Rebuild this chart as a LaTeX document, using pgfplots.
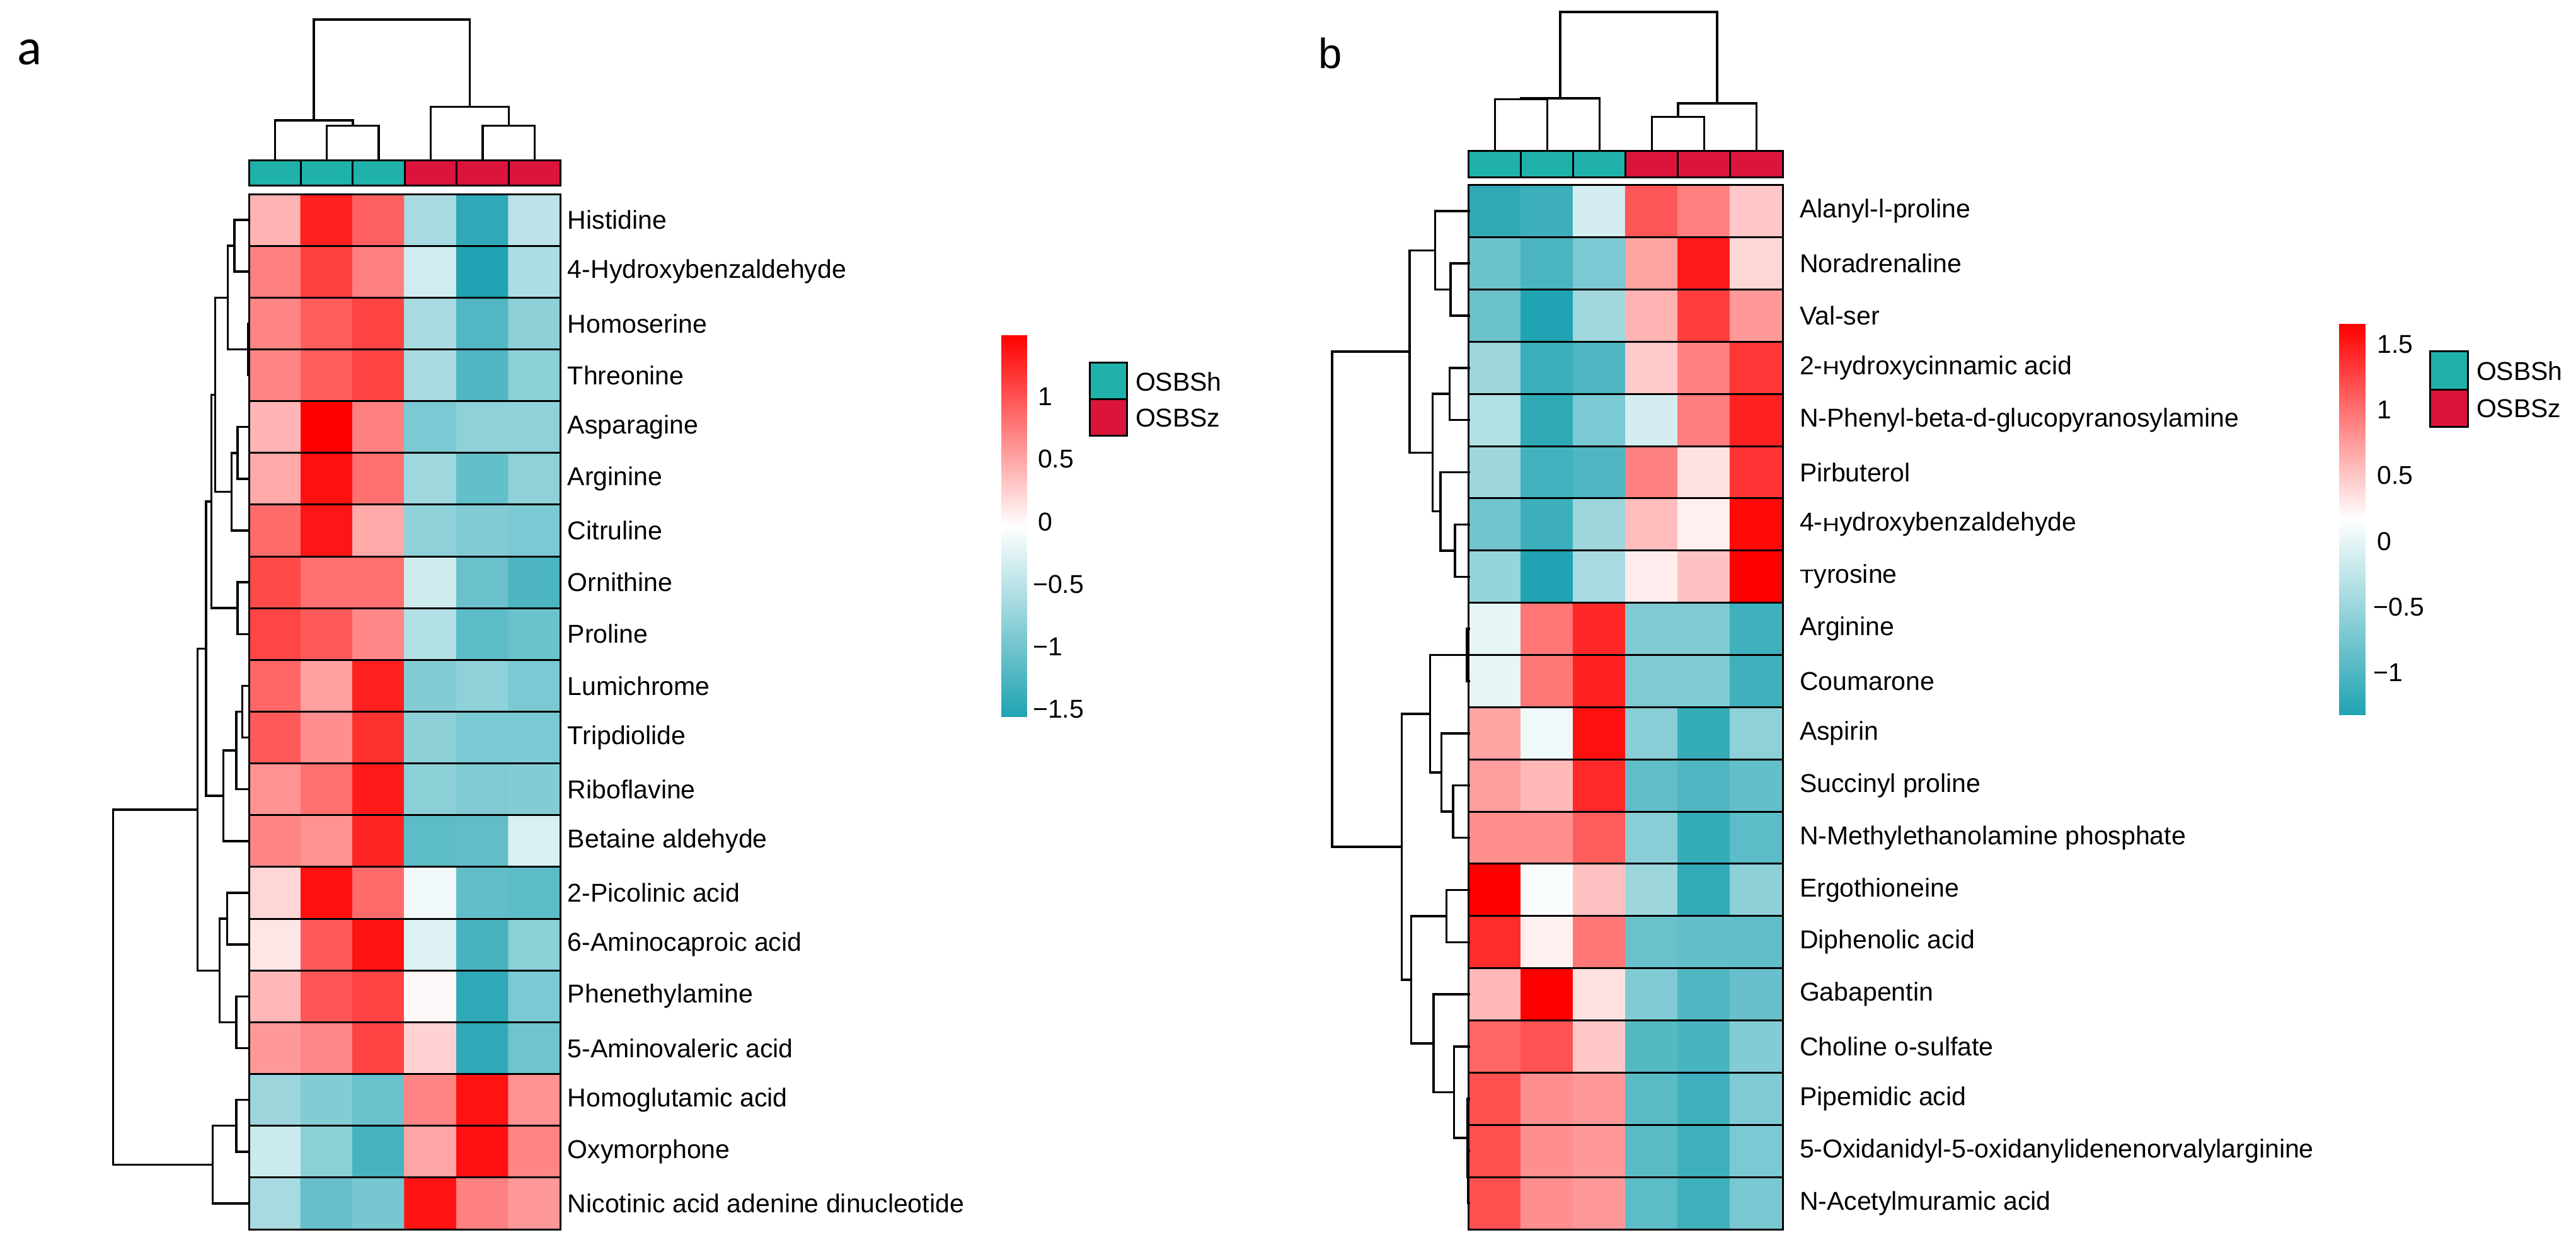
\documentclass[border=0pt]{standalone}
\usepackage{fontspec}
\setmainfont{Liberation Sans}
\newfontfamily\carlito{Carlito}
\usepackage{graphicx}
\usepackage{pgfplots}
\usepackage{pgfplotstable}
\pgfplotsset{compat=1.18}
\definecolor{annteal}{RGB}{32,178,170}
\definecolor{annred}{RGB}{220,20,60}
\pgfplotsset{colormap={hm}{rgb255=(32,163,178) rgb255=(255,255,255) rgb255=(255,0,0)}}
\newcommand{\lbl}{\fontsize{8.2pt}{9.8pt}\selectfont}
\newcommand{\smc}[1]{\scalebox{0.9}[0.74]{#1}}
\tikzset{dg/.style={black, line width=0.7pt, line join=miter, line cap=rect}}

\pgfplotstableread{
x y v
1 1 0.423
2 1 1.308
3 1 0.911
4 1 -0.629
5 1 -1.452
6 1 -0.491
1 2 0.728
2 2 1.109
3 2 0.728
4 2 -0.354
5 2 -1.558
6 2 -0.598
1 3 0.698
2 3 0.942
3 3 1.094
4 3 -0.629
5 3 -1.223
6 3 -0.812
1 4 0.698
2 4 0.942
3 4 1.094
4 4 -0.629
5 4 -1.238
6 4 -0.827
1 5 0.408
2 5 1.491
3 5 0.728
4 5 -0.933
5 5 -0.796
6 5 -0.796
1 6 0.484
2 6 1.399
3 6 0.820
4 6 -0.690
5 6 -1.101
6 6 -0.796
1 7 0.850
2 7 1.369
3 7 0.484
4 7 -0.796
5 7 -0.888
6 7 -0.933
1 8 1.048
2 8 0.820
3 8 0.820
4 8 -0.369
5 8 -1.055
6 8 -1.254
1 9 1.079
2 9 0.957
3 9 0.683
4 9 -0.552
5 9 -1.147
6 9 -1.040
1 10 0.881
2 10 0.530
3 10 1.308
4 10 -0.888
5 10 -0.796
6 10 -0.933
1 11 0.957
2 11 0.637
3 11 1.201
4 11 -0.811
5 11 -0.933
6 11 -0.933
1 12 0.622
2 12 0.820
3 12 1.338
4 12 -0.827
5 12 -0.903
6 12 -0.872
1 13 0.698
2 13 0.622
3 13 1.277
4 13 -1.147
5 13 -1.116
6 13 -0.293
1 14 0.210
2 14 1.399
3 14 0.850
4 14 -0.125
5 14 -1.116
6 14 -1.147
1 15 0.118
2 15 0.957
3 15 1.384
4 15 -0.263
5 15 -1.299
6 15 -0.827
1 16 0.393
2 16 0.987
3 16 1.094
4 16 0.012
5 16 -1.452
6 16 -0.933
1 17 0.576
2 17 0.683
3 17 1.094
4 17 0.240
5 17 -1.452
6 17 -1.010
1 18 -0.705
2 18 -0.872
3 18 -1.055
4 18 0.698
5 18 1.384
6 18 0.622
1 19 -0.385
2 19 -0.827
3 19 -1.299
4 19 0.500
5 19 1.399
6 19 0.698
1 20 -0.629
2 20 -1.071
3 20 -0.964
4 20 1.384
5 20 0.728
6 20 0.576
}\hmA

\pgfplotstableread{
x y v
1 1 -1.215
2 1 -1.126
3 1 -0.115
4 1 1.149
5 1 0.912
6 1 0.495
1 2 -0.813
2 2 -1.036
3 2 -0.709
4 2 0.703
5 2 1.506
6 2 0.406
1 3 -0.828
2 3 -1.319
3 3 -0.457
4 3 0.614
5 3 1.298
6 3 0.763
1 4 -0.486
2 4 -1.141
3 4 -1.007
4 4 0.480
5 4 0.912
6 4 1.343
1 5 -0.352
2 5 -1.215
3 5 -0.709
4 5 -0.115
5 5 0.926
6 5 1.462
1 6 -0.486
2 6 -1.081
3 6 -1.007
4 6 0.912
5 6 0.346
6 6 1.358
1 7 -0.769
2 7 -1.126
3 7 -0.486
4 7 0.555
5 7 0.257
6 7 1.610
1 8 -0.531
2 8 -1.319
3 8 -0.412
4 8 0.272
5 8 0.525
6 8 1.655
1 9 0.004
2 9 0.971
3 9 1.432
4 9 -0.680
5 9 -0.680
6 9 -1.111
1 10 0.004
2 10 0.956
3 10 1.462
4 10 -0.680
5 10 -0.680
6 10 -1.111
1 11 0.703
2 11 0.064
3 11 1.566
4 11 -0.620
5 11 -1.185
6 11 -0.576
1 12 0.733
2 12 0.584
3 12 1.417
4 12 -0.888
5 12 -1.007
6 12 -0.873
1 13 0.822
2 13 0.822
3 13 1.120
4 13 -0.620
5 13 -1.185
6 13 -0.918
1 14 1.655
2 14 0.138
3 14 0.525
4 14 -0.486
5 14 -1.200
6 14 -0.590
1 15 1.402
2 15 0.257
3 15 0.971
4 15 -0.828
5 15 -0.873
6 15 -0.888
1 16 0.584
2 16 1.655
3 16 0.346
4 16 -0.665
5 16 -1.007
6 16 -0.843
1 17 1.060
2 17 1.179
3 17 0.495
4 17 -0.962
5 17 -1.051
6 17 -0.650
1 18 1.194
2 18 0.822
3 18 0.763
4 18 -0.932
5 18 -1.111
6 18 -0.680
1 19 1.194
2 19 0.822
3 19 0.763
4 19 -0.932
5 19 -1.111
6 19 -0.709
1 20 1.194
2 20 0.822
3 20 0.763
4 20 -0.918
5 20 -1.111
6 20 -0.724
}\hmB

\pgfplotsset{
  heat/.style={
    anchor=south west, scale only axis,
    xmin=0.5, xmax=6.5, ymin=0.5, ymax=20.5, y dir=reverse,
    colormap name=hm,
    xtick=\empty, ytick={1,...,20}, yticklabel pos=right,
    minor xtick={1.5,2.5,3.5,4.5,5.5}, minor ytick={1.5,2.5,...,19.5},
    grid=minor, minor grid style={black, line width=0.6pt},
    major tick length=0pt, minor tick length=0pt,
    tick style={draw=none},
    axis line style={black, line width=0.6pt}, axis on top,
    yticklabel style={font=\lbl, anchor=west, inner sep=0pt, xshift=2pt},
  },
  cbar/.style={
    anchor=south west, scale only axis, xmin=0, xmax=1,
    colormap name=hm, axis line style={draw=none},
    xtick=\empty, yticklabel pos=right, major tick length=0pt,
    tick style={draw=none},
  },
  annot/.style={
    anchor=south west, scale only axis, xmin=0.5, xmax=6.5, ymin=0, ymax=1,
    hide axis, clip=false,
  },
  dendro/.style={anchor=south west, scale only axis, hide axis, clip=false},
}

\begin{document}
\begin{tikzpicture}
\useasboundingbox (0,0) rectangle (817.6pt,393.6pt);

% ---------------- panel a ----------------
\begin{axis}[heat, at={(79pt,3.4pt)}, width=99pt, height=328.6pt,
  point meta min=-1.558, point meta max=1.491,
  yticklabels={Histidine,4-Hydroxybenzaldehyde,Homoserine,Threonine,Asparagine,Arginine,Citruline,Ornithine,Proline,Lumichrome,Tripdiolide,Riboflavine,Betaine aldehyde,2-Picolinic acid,6-Aminocaproic acid,Phenethylamine,5-Aminovaleric acid,Homoglutamic acid,Oxymorphone,Nicotinic acid adenine dinucleotide}]
\addplot[matrix plot*, mesh/cols=6, point meta=explicit] table[x=x, y=y, meta=v] {\hmA};
\end{axis}

\begin{axis}[annot, at={(79pt,334.6pt)}, width=99pt, height=8pt]
\addplot[ybar, bar width=1, bar shift=0pt, fill=annteal, draw=black, line width=0.6pt] coordinates {(1,1) (2,1) (3,1)};
\addplot[ybar, bar width=1, bar shift=0pt, fill=annred, draw=black, line width=0.6pt] coordinates {(4,1) (5,1) (6,1)};
\end{axis}

\begin{axis}[dendro, at={(79pt,343.4pt)}, width=99pt, height=44pt,
  xmin=0.5, xmax=6.5, ymin=0, ymax=220]
\addplot[dg] coordinates {(2,0) (2,51.5) (3,51.5) (3,0)};
\addplot[dg] coordinates {(1,0) (1,60) (2.5,60) (2.5,51.5)};
\addplot[dg] coordinates {(5,0) (5,51.5) (6,51.5) (6,0)};
\addplot[dg] coordinates {(4,0) (4,81.4) (5.5,81.4) (5.5,51.5)};
\addplot[dg] coordinates {(1.75,60) (1.75,220) (4.75,220) (4.75,81.4)};
\end{axis}

\begin{axis}[dendro, at={(35.94pt,3.4pt)}, width=43.06pt, height=328.6pt,
  xmin=0, xmax=215.3, x dir=reverse, ymin=0.5, ymax=20.5, y dir=reverse]
\addplot[dg] coordinates {(0,1) (23,1) (23,2) (0,2)};
\addplot[dg] coordinates {(0,3) (1.5,3) (1.5,4) (0,4)};
\addplot[dg] coordinates {(23,1.5) (33.3,1.5) (33.3,3.5) (1.5,3.5)};
\addplot[dg] coordinates {(0,5) (17.8,5) (17.8,6) (0,6)};
\addplot[dg] coordinates {(17.8,5.5) (27.4,5.5) (27.4,7) (0,7)};
\addplot[dg] coordinates {(33.3,2.5) (53.5,2.5) (53.5,6.25) (27.4,6.25)};
\addplot[dg] coordinates {(0,8) (17.8,8) (17.8,9) (0,9)};
\addplot[dg] coordinates {(53.5,4.375) (59.3,4.375) (59.3,8.5) (17.8,8.5)};
\addplot[dg] coordinates {(0,10) (10.6,10) (10.6,11) (0,11)};
\addplot[dg] coordinates {(10.6,10.5) (20.2,10.5) (20.2,12) (0,12)};
\addplot[dg] coordinates {(20.2,11.25) (40.3,11.25) (40.3,13) (0,13)};
\addplot[dg] coordinates {(59.3,6.4375) (68,6.4375) (68,12.125) (40.3,12.125)};
\addplot[dg] coordinates {(0,14) (34.6,14) (34.6,15) (0,15)};
\addplot[dg] coordinates {(0,16) (20.2,16) (20.2,17) (0,17)};
\addplot[dg] coordinates {(34.6,14.5) (46.5,14.5) (46.5,16.5) (20.2,16.5)};
\addplot[dg] coordinates {(68,9.28125) (81.4,9.28125) (81.4,15.5) (46.5,15.5)};
\addplot[dg] coordinates {(0,18) (20.2,18) (20.2,19) (0,19)};
\addplot[dg] coordinates {(20.2,18.5) (57.5,18.5) (57.5,20) (0,20)};
\addplot[dg] coordinates {(81.4,12.390625) (215.3,12.390625) (215.3,19.25) (57.5,19.25)};
\end{axis}

\begin{axis}[cbar, at={(317.86pt,166.1pt)}, width=8.06pt, height=121.16pt,
  ymin=-1.558, ymax=1.491, point meta min=-1.558, point meta max=1.491,
  ytick={-1.5,-1,-0.5,0,0.5,1},
  yticklabels={\kern-1.6pt −1.5,\kern-1.6pt −1,\kern-1.6pt −0.5,0,0.5,1},
  yticklabel style={font=\lbl, anchor=west, inner sep=0pt, xshift=3.3pt}]
\addplot[patch, patch type=rectangle, shader=interp, point meta=y] coordinates {
  (0,-1.558) (1,-1.558) (1,-0.0335) (0,-0.0335)
  (0,-0.0335) (1,-0.0335) (1,1.491) (0,1.491)};
\end{axis}

\fill[annteal, draw=black, line width=0.6pt] (345.8pt,266.8pt) rectangle (357.6pt,278.4pt);
\fill[annred, draw=black, line width=0.6pt] (345.8pt,255.2pt) rectangle (357.6pt,266.8pt);
\node[anchor=west, inner sep=0pt, font=\lbl] at (360.2pt,272.4pt) {OSBSh};
\node[anchor=west, inner sep=0pt, font=\lbl] at (360.2pt,261pt) {OSBSz};

\node[anchor=base west, inner sep=0pt, font=\carlito\fontsize{16.3pt}{18pt}\selectfont] at (5.2pt,373pt) {a};

% ---------------- panel b ----------------
\begin{axis}[heat, at={(466.16pt,3.4pt)}, width=99.64pt, height=331.44pt,
  point meta min=-1.319, point meta max=1.655,
  yticklabel style={xshift=3.2pt},
  yticklabels={Alanyl-l-proline,Noradrenaline,Val-ser,2-\smc{H}ydroxycinnamic acid,N-Phenyl-beta-d-glucopyranosylamine,Pirbuterol,4-\smc{H}ydroxybenzaldehyde,\smc{T}yrosine,Arginine,Coumarone,Aspirin,Succinyl proline,N-Methylethanolamine phosphate,Ergothioneine,Diphenolic acid,Gabapentin,Choline o-sulfate,Pipemidic acid,5-Oxidanidyl-5-oxidanylidenenorvalylarginine,N-Acetylmuramic acid}]
\addplot[matrix plot*, mesh/cols=6, point meta=explicit] table[x=x, y=y, meta=v] {\hmB};
\end{axis}

\begin{axis}[annot, at={(466.16pt,337.2pt)}, width=99.64pt, height=8.4pt]
\addplot[ybar, bar width=1, bar shift=0pt, fill=annteal, draw=black, line width=0.6pt] coordinates {(1,1) (2,1) (3,1)};
\addplot[ybar, bar width=1, bar shift=0pt, fill=annred, draw=black, line width=0.6pt] coordinates {(4,1) (5,1) (6,1)};
\end{axis}

\begin{axis}[dendro, at={(466.16pt,346.1pt)}, width=99.64pt, height=43.66pt,
  xmin=0.5, xmax=6.5, ymin=0, ymax=218.3]
\addplot[dg] coordinates {(1,0) (1,79.9) (2,79.9) (2,0)};
\addplot[dg] coordinates {(1.5,79.9) (1.5,81.25) (3,81.25) (3,0)};
\addplot[dg] coordinates {(4,0) (4,52.2) (5,52.2) (5,0)};
\addplot[dg] coordinates {(4.5,52.2) (4.5,73.7) (6,73.7) (6,0)};
\addplot[dg] coordinates {(2.25,81.25) (2.25,218.3) (5.25,218.3) (5.25,73.7)};
\end{axis}

\begin{axis}[dendro, at={(422.8pt,3.4pt)}, width=43.36pt, height=331.44pt,
  xmin=0, xmax=216.8, x dir=reverse, ymin=0.5, ymax=20.5, y dir=reverse]
\addplot[dg] coordinates {(0,2) (28.8,2) (28.8,3) (0,3)};
\addplot[dg] coordinates {(0,1) (53.1,1) (53.1,2.5) (28.8,2.5)};
\addplot[dg] coordinates {(0,4) (30.4,4) (30.4,5) (0,5)};
\addplot[dg] coordinates {(0,7) (21.8,7) (21.8,8) (0,8)};
\addplot[dg] coordinates {(0,6) (45,6) (45,7.5) (21.8,7.5)};
\addplot[dg] coordinates {(30.4,4.5) (57.5,4.5) (57.5,6.75) (45,6.75)};
\addplot[dg] coordinates {(53.1,1.75) (93.8,1.75) (93.8,5.625) (57.5,5.625)};
\addplot[dg] coordinates {(0,9) (3.3,9) (3.3,10) (0,10)};
\addplot[dg] coordinates {(0,12) (24.9,12) (24.9,13) (0,13)};
\addplot[dg] coordinates {(0,11) (43.4,11) (43.4,12.5) (24.9,12.5)};
\addplot[dg] coordinates {(3.3,9.5) (61.3,9.5) (61.3,11.75) (43.4,11.75)};
\addplot[dg] coordinates {(0,14) (35.2,14) (35.2,15) (0,15)};
\addplot[dg] coordinates {(0,19) (0.8,19) (0.8,20) (0,20)};
\addplot[dg] coordinates {(0,18) (1.6,18) (1.6,19.5) (0.8,19.5)};
\addplot[dg] coordinates {(0,17) (23.3,17) (23.3,18.75) (1.6,18.75)};
\addplot[dg] coordinates {(0,16) (55.8,16) (55.8,17.875) (23.3,17.875)};
\addplot[dg] coordinates {(35.2,14.5) (91.1,14.5) (91.1,16.9375) (55.8,16.9375)};
\addplot[dg] coordinates {(61.3,10.625) (106.2,10.625) (106.2,15.71875) (91.1,15.71875)};
\addplot[dg] coordinates {(93.8,3.6875) (216.8,3.6875) (216.8,13.171875) (106.2,13.171875)};
\end{axis}

\begin{axis}[cbar, at={(742.4pt,166.76pt)}, width=8.3pt, height=124.08pt,
  ymin=-1.319, ymax=1.655, point meta min=-1.319, point meta max=1.655,
  ytick={-1,-0.5,0,0.5,1,1.5},
  yticklabels={\kern-1.2pt −1,\kern-1.2pt −0.5,0,0.5,1,1.5},
  yticklabel style={font=\lbl, anchor=west, inner sep=0pt, xshift=3.6pt}]
\addplot[patch, patch type=rectangle, shader=interp, point meta=y] coordinates {
  (0,-1.319) (1,-1.319) (1,0.168) (0,0.168)
  (0,0.168) (1,0.168) (1,1.655) (0,1.655)};
\end{axis}

\fill[annteal, draw=black, line width=0.6pt] (771.3pt,269.88pt) rectangle (783.3pt,282.04pt);
\fill[annred, draw=black, line width=0.6pt] (771.3pt,258.12pt) rectangle (783.3pt,269.88pt);
\node[anchor=west, inner sep=0pt, font=\lbl] at (785.8pt,275.8pt) {OSBSh};
\node[anchor=west, inner sep=0pt, font=\lbl] at (785.8pt,263.86pt) {OSBSz};

\node[anchor=base west, inner sep=0pt, font=\fontsize{13.4pt}{15pt}\selectfont] at (418.2pt,371.8pt) {b};
\end{tikzpicture}
\end{document}
